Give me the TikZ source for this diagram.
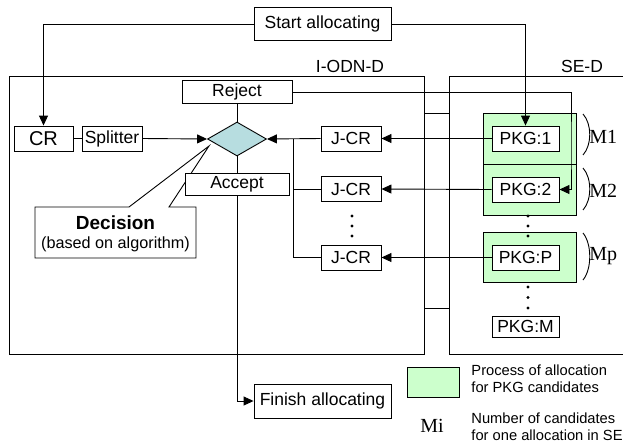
\documentclass[tikz,border=0pt]{standalone}
\usepackage{fontspec}
\setmainfont{Liberation Sans}
\newfontfamily\serifm{Liberation Serif}
\usetikzlibrary{shapes.geometric,arrows.meta}
\definecolor{greenfill}{RGB}{204,255,204}
\definecolor{diafill}{RGB}{183,221,224}
\begin{document}
\begin{tikzpicture}[x=1pt,y=-1pt,
  line width=0.9pt,
  box/.style={draw, fill=white, inner sep=0pt, font=\fontsize{17.5}{20}\selectfont},
  lbl/.style={inner sep=0pt, font=\fontsize{17.5}{20}\selectfont},
  leg/.style={inner sep=0pt, anchor=base west, font=\fontsize{14.7}{17}\selectfont},
  mlbl/.style={inner sep=0pt, anchor=base west, font=\serifm\fontsize{20}{22}\selectfont},
  arr/.style={-{Triangle[length=10pt,width=9pt]}},
  grn/.style={draw, fill=greenfill, inner sep=0pt},
  dotm/.style={fill, circle, inner sep=0pt, minimum size=3.2pt},
]
\useasboundingbox (0,0) rectangle (623,445);

% frames
\draw (9,76) rectangle (424,354);
\draw (624,76) -- (449,76) -- (449,354) -- (624,354);
\draw (424,113) -- (449,113);
\draw (424,308) -- (449,308);
\node[lbl] (iodnlbl) at (350,66) {I-ODN-D};
\node[lbl] (sedlbl) at (582,66) {SE-D};

% green process boxes
\node[grn, minimum width=93pt, minimum height=51pt] (g1) at (529.5,138.5) {};
\node[grn, minimum width=93pt, minimum height=51pt] (g2) at (529.5,189.5) {};
\node[grn, minimum width=93pt, minimum height=50pt] (gp) at (529.5,257) {};

% nodes
\node[box, minimum width=137pt, minimum height=33pt] (start) at (322.5,24) {Start allocating};
\node[box, minimum width=59pt, minimum height=25pt, font=\fontsize{20}{22}\selectfont] (cr) at (43.5,138.5) {CR};
\node[box, minimum width=60pt, minimum height=25pt] (split) at (112,138.5) {Splitter};
\node[box, minimum width=110pt, minimum height=23pt] (reject) at (237,92) {Reject};
\node[diamond, draw, fill=diafill, inner sep=0pt, minimum width=59pt, minimum height=34pt, aspect=1.735] (dia) at (237,139) {};

% decision callout
\draw[fill=white] (35,207) -- (129,207) -- (209,146) -- (169,207) -- (196,207) -- (196,258) -- (35,258) -- cycle;
\node[inner sep=0pt, font=\fontsize{19}{21}\selectfont\bfseries] (dect) at (115.5,223) {Decision};
\node[inner sep=0pt, font=\fontsize{16.2}{19}\selectfont] (decs) at (115.5,244) {(based on algorithm)};

\node[box, minimum width=104pt, minimum height=22pt] (accept) at (237,184) {Accept};
\node[box, minimum width=137pt, minimum height=34pt] (finish) at (322.5,401) {Finish allocating};

\node[box, minimum width=60pt, minimum height=25pt] (j1) at (351,138.5) {J-CR};
\node[box, minimum width=60pt, minimum height=25pt] (j2) at (351,189) {J-CR};
\node[box, minimum width=60pt, minimum height=25pt] (jp) at (351,257.5) {J-CR};

\node[box, minimum width=67pt, minimum height=25pt] (p1) at (525.5,138.5) {PKG:1};
\node[box, minimum width=67pt, minimum height=25pt] (p2) at (525.5,189.5) {PKG:2};
\node[box, minimum width=67pt, minimum height=25pt] (pp) at (525.5,257.5) {PKG:P};
\node[box, minimum width=67pt, minimum height=21pt] (pm) at (525.5,326.5) {PKG:M};

% coordinates
\coordinate (jb) at (293,139);
\coordinate (rc) at (571,150);

% connectors
\draw[arr] (start.west) -| (cr.north);
\draw[arr] (start.east) -| (p1.north);
\draw (cr.east) -- (split.west);
\draw[arr] (split.east) -- (dia.west);
\draw (reject.south) -- (dia.north);
\draw (dia.south) -- (accept.north);
\draw[arr] (accept.south) |- (finish.west);
\draw[arr] (reject.east) -| (rc) |- (p2.east);
\draw[arr] (j1.west) -- (dia.east);
\draw (j2.west) -| (jb);
\draw (jp.west) -| (jb);
\draw[arr] (p1.west) -- (j1.east);
\draw[arr] (p2.west) -- (j2.east);
\draw[arr] (pp.west) -- (jp.east);

% vertical dots
\node[dotm] at (352,216) {};
\node[dotm] at (352,226) {};
\node[dotm] at (352,236) {};
\node[dotm] at (528,216) {};
\node[dotm] at (528,226) {};
\node[dotm] at (528,236) {};
\node[dotm] at (528,287) {};
\node[dotm] at (528,297.5) {};
\node[dotm] at (528,308) {};

% brackets
\draw (583,114) .. controls (592,124) and (592,145) .. (583,155);
\draw (583,168) .. controls (592,178) and (592,200) .. (583,210);
\draw (583,233) .. controls (592,244) and (592,269) .. (583,280);
\node[mlbl] (m1) at (589,143) {M1};
\node[mlbl] (m2) at (589,197) {M2};
\node[mlbl] (mp) at (589,260) {Mp};

% legend
\node[grn, minimum width=52pt, minimum height=30pt] (leggrn) at (433,382) {};
\node[leg] (legt1) at (471,375) {Process of allocation};
\node[leg] (legt2) at (471,392) {for PKG candidates};
\node[mlbl] (mi) at (420,432) {Mi};
\node[leg] (legt3) at (471,423) {Number of candidates};
\node[leg] (legt4) at (471,440) {for one allocation in SE};
\end{tikzpicture}
\end{document}
